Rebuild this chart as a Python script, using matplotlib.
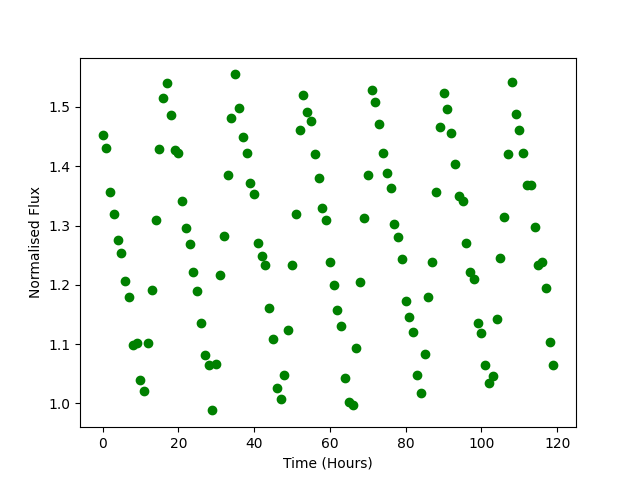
import numpy as np
import matplotlib
matplotlib.use("Agg")
import matplotlib.pyplot as plt

# time in hours, one sample per hour
hours = list(range(120))

# normalised flux
flux = [
    1.452, 1.430, 1.356, 1.319, 1.275, 1.253, 1.206, 1.179, 1.099, 1.101,
    1.040, 1.020, 1.101, 1.192, 1.309, 1.429, 1.515, 1.540, 1.486, 1.427,
    1.423, 1.342, 1.295, 1.268, 1.221, 1.190, 1.135, 1.082, 1.065, 0.988,
    1.067, 1.216, 1.282, 1.385, 1.481, 1.555, 1.498, 1.450, 1.422, 1.371,
    1.353, 1.270, 1.248, 1.233, 1.160, 1.109, 1.025, 1.008, 1.048, 1.123,
    1.233, 1.319, 1.462, 1.520, 1.491, 1.476, 1.420, 1.381, 1.330, 1.309,
    1.238, 1.199, 1.157, 1.130, 1.042, 1.002, 0.997, 1.094, 1.204, 1.312,
    1.386, 1.528, 1.509, 1.472, 1.423, 1.388, 1.363, 1.302, 1.280, 1.244,
    1.172, 1.145, 1.121, 1.048, 1.018, 1.084, 1.180, 1.238, 1.356, 1.466,
    1.523, 1.496, 1.456, 1.403, 1.349, 1.341, 1.271, 1.221, 1.209, 1.135,
    1.118, 1.064, 1.035, 1.046, 1.143, 1.246, 1.315, 1.420, 1.543, 1.489,
    1.461, 1.422, 1.369, 1.368, 1.297, 1.233, 1.239, 1.194, 1.104, 1.065,
]

fig, ax = plt.subplots(figsize=(6.4, 4.8), dpi=100)
ax.plot(hours, flux, "o", color="green")
ax.set_xlabel("Time (Hours)")
ax.set_ylabel("Normalised Flux")
fig.savefig("out.png")
